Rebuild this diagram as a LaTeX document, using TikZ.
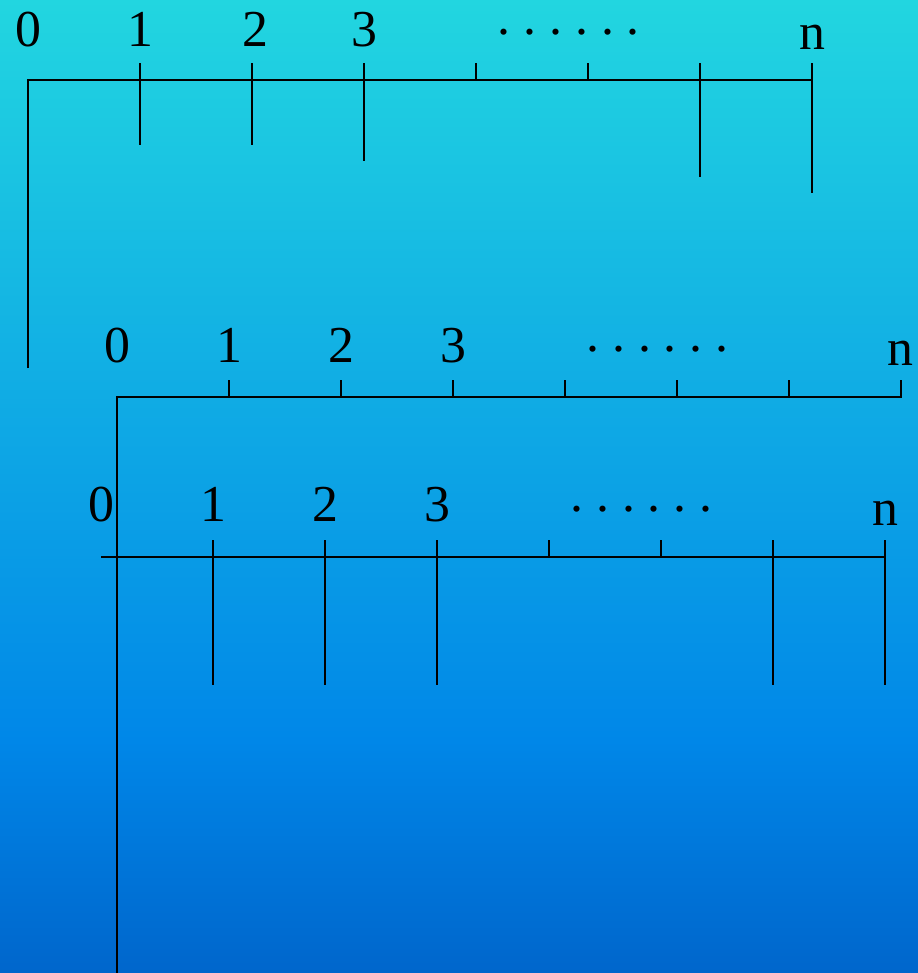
\documentclass[tikz,border=0pt]{standalone}
\usepackage{fontspec}
\setmainfont{Liberation Serif}
\definecolor{skytop}{RGB}{34,214,224}
\definecolor{skymid}{RGB}{0,135,232}
\definecolor{skybot}{RGB}{0,102,204}
\tikzset{
  axis/.style={line width=2.8bp, black},
  numlbl/.style={anchor=base, inner sep=0pt, font=\fontsize{52}{60}\selectfont\frenchspacing},
}
\begin{document}
\begin{tikzpicture}[x=1bp,y=-1bp]
\useasboundingbox (0,0) rectangle (918,973);
% background
\shade[top color=skytop,bottom color=skymid] (0,0) rectangle (918,741);
\shade[top color=skymid,bottom color=skybot] (0,740) rectangle (918,973);

% first scale
\node[numlbl] (a0) at (28,46) {0};
\node[numlbl] (a1) at (140,46) {1};
\node[numlbl] (a2) at (255,46) {2};
\node[numlbl] (a3) at (364,46) {3};
\node[numlbl] (adots) at (568.7,34.5) {. . . . . .};
\node[numlbl] (an) at (812.7,49) {n};
\draw[axis] (28,368) -- (28,80) -- (812,80);
\draw[axis] (140,63) -- (140,145);
\draw[axis] (252,63) -- (252,145);
\draw[axis] (364,63) -- (364,161);
\draw[axis] (476,63) -- (476,80);
\draw[axis] (588,63) -- (588,80);
\draw[axis] (700,63) -- (700,177);
\draw[axis] (812,63) -- (812,193);

% second scale
\node[numlbl] (b0) at (117,362) {0};
\node[numlbl] (b1) at (229,362) {1};
\node[numlbl] (b2) at (341,362) {2};
\node[numlbl] (b3) at (453,362) {3};
\node[numlbl] (bdots) at (657.5,351) {. . . . . .};
\node[numlbl] (bn) at (900.7,365) {n};
\draw[axis] (117,973) -- (117,397) -- (901,397);
\draw[axis] (229,380) -- (229,397);
\draw[axis] (341,380) -- (341,397);
\draw[axis] (453,380) -- (453,397);
\draw[axis] (565,380) -- (565,397);
\draw[axis] (677,380) -- (677,397);
\draw[axis] (789,380) -- (789,397);
\draw[axis] (901,380) -- (901,398.4);

% third scale
\node[numlbl] (c0) at (101,521) {0};
\node[numlbl] (c1) at (213,521) {1};
\node[numlbl] (c2) at (325,521) {2};
\node[numlbl] (c3) at (437,521) {3};
\node[numlbl] (cdots) at (641.5,511) {. . . . . .};
\node[numlbl] (cn) at (885,525) {n};
\draw[axis] (101,557) -- (885,557);
\draw[axis] (213,540) -- (213,685);
\draw[axis] (325,540) -- (325,685);
\draw[axis] (437,540) -- (437,685);
\draw[axis] (549,540) -- (549,557);
\draw[axis] (661,540) -- (661,557);
\draw[axis] (773,540) -- (773,685);
\draw[axis] (885,540) -- (885,685);
\end{tikzpicture}
\end{document}
